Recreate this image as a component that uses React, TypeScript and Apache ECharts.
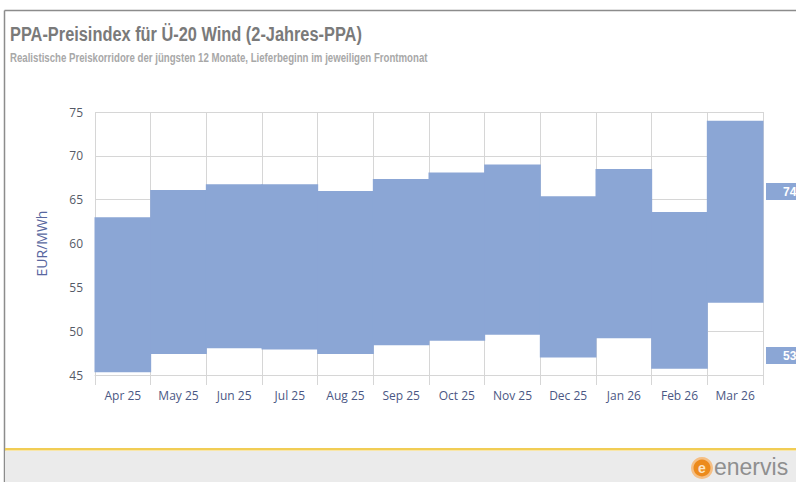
import React, { useEffect, useRef } from "react";
import * as echarts from "echarts";

const months = ["Apr 25", "May 25", "Jun 25", "Jul 25", "Aug 25", "Sep 25", "Oct 25", "Nov 25", "Dec 25", "Jan 26", "Feb 26", "Mar 26"];
const upper = [63.0, 66.1, 66.75, 66.75, 66.0, 67.35, 68.1, 69.0, 65.4, 68.5, 63.6, 74.0];
const lower = [45.3, 47.4, 48.05, 47.9, 47.4, 48.4, 48.9, 49.6, 47.0, 49.2, 45.7, 53.25];
const yTicks = { min: 45, max: 75, interval: 5 };
const titleText = "PPA-Preisindex für Ü-20 Wind (2-Jahres-PPA)";
const subtitleText = "Realistische Preiskorridore der jüngsten 12 Monate, Lieferbeginn im jeweiligen Frontmonat";
const yName = "EUR/MWh";

const BLUE = "#8ba6d5";

function fitScale(text: string, font: string, target: number): number {
  const ctx = document.createElement("canvas").getContext("2d");
  if (!ctx) return 1;
  ctx.font = font;
  const w = ctx.measureText(text).width;
  return w > 0 ? target / w : 1;
}

export default function App() {
  const ref = useRef<HTMLDivElement>(null);
  useEffect(() => {
    if (!ref.current) return;
    const chart = echarts.init(ref.current, null, { renderer: "svg" });
    const titleFont = "bold 20px 'Liberation Sans', Arial, sans-serif";
    const subFont = "bold 12px 'Liberation Sans', Arial, sans-serif";
    const tScale = fitScale(titleText, titleFont, 352);
    const sScale = fitScale(subtitleText, subFont, 418);
    const corridor = months.map((_, i) => [i, lower[i], upper[i]]);
    const lastTop = Math.round(upper[upper.length - 1]);
    const lastBot = Math.round(lower[lower.length - 1]);

    chart.setOption({
      animation: false,
      backgroundColor: "#ffffff",
      grid: { left: 95, right: 33, top: 112, bottom: 107, containLabel: false },
      xAxis: {
        type: "category",
        data: months,
        boundaryGap: true,
        axisLine: { show: true, lineStyle: { color: "#d6d6d6", width: 1 } },
        axisTick: { show: true, interval: 0, length: 10, lineStyle: { color: "#d6d6d6" } },
        splitLine: { show: true, interval: 0, lineStyle: { color: "#d6d6d6", width: 1 } },
        axisLabel: {
          interval: 0,
          color: "#4b5784",
          fontFamily: "'Open Sans', 'DejaVu Sans', sans-serif",
          fontSize: 12,
          margin: 14,
        },
      },
      yAxis: {
        type: "value",
        min: yTicks.min,
        max: yTicks.max,
        interval: yTicks.interval,
        name: yName,
        nameLocation: "middle",
        nameGap: 47,
        nameTextStyle: {
          color: "#5867a0",
          fontFamily: "'Open Sans', 'DejaVu Sans', sans-serif",
          fontSize: 14,
        },
        axisLine: { show: false },
        axisTick: { show: false },
        splitLine: { show: true, lineStyle: { color: "#d6d6d6", width: 1 } },
        axisLabel: {
          color: "#555a66",
          fontFamily: "'Open Sans', 'DejaVu Sans', sans-serif",
          fontSize: 12,
          margin: 12,
        },
      },
      series: [
        {
          type: "custom",
          z: 5,
          data: corridor,
          encode: { x: 0, y: [1, 2] },
          renderItem: (params: any, api: any) => {
            const idx = api.value(0);
            const top = api.coord([idx, api.value(2)]);
            const bot = api.coord([idx, api.value(1)]);
            const w = api.size([1, 0])[0];
            return {
              type: "rect",
              shape: { x: top[0] - w / 2 - 0.5, y: top[1], width: w + 1, height: bot[1] - top[1] },
              style: { fill: BLUE },
            };
          },
        },
      ],
      graphic: [
        // frame
        { type: "line", shape: { x1: 4.5, y1: 10.5, x2: 796, y2: 10.5 }, style: { stroke: "#8c8c8c", lineWidth: 1.5 } },
        { type: "line", shape: { x1: 4.5, y1: 10.5, x2: 4.5, y2: 482 }, style: { stroke: "#8c8c8c", lineWidth: 1.5 } },
        // title
        {
          type: "text",
          x: 10,
          y: 44,
          scaleX: tScale,
          style: { text: titleText, font: titleFont, fill: "#7a7a7a", textVerticalAlign: "bottom" },
        },
        {
          type: "text",
          x: 10,
          y: 64,
          scaleX: sScale,
          style: { text: subtitleText, font: subFont, fill: "#a8a8a8", textVerticalAlign: "bottom" },
        },
        // right value labels
        { type: "rect", shape: { x: 766, y: 183, width: 40, height: 17 }, style: { fill: BLUE } },
        {
          type: "text",
          x: 783,
          y: 192,
          style: { text: String(lastTop), font: "bold 12px 'Liberation Sans', Arial, sans-serif", fill: "#ffffff", textVerticalAlign: "middle" },
        },
        { type: "rect", shape: { x: 766, y: 347, width: 40, height: 17 }, style: { fill: BLUE } },
        {
          type: "text",
          x: 783,
          y: 356,
          style: { text: String(lastBot), font: "bold 12px 'Liberation Sans', Arial, sans-serif", fill: "#ffffff", textVerticalAlign: "middle" },
        },
        // footer
        { type: "rect", shape: { x: 5, y: 451, width: 791, height: 31 }, style: { fill: "#ebebeb" } },
        { type: "rect", shape: { x: 5, y: 448, width: 791, height: 2.5 }, style: { fill: "#f1cd55" } },
        // logo
        { type: "circle", shape: { cx: 702, cy: 468, r: 11 }, style: { fill: "#f5bf85" } },
        { type: "circle", shape: { cx: 702, cy: 468, r: 8.5 }, style: { fill: "#ec8a1c" } },
        {
          type: "text",
          x: 702,
          y: 468,
          style: { text: "e", font: "bold 14px 'Liberation Sans', Arial, sans-serif", fill: "#fbe3c4", textAlign: "center", textVerticalAlign: "middle" },
        },
        {
          type: "text",
          x: 714,
          y: 467,
          style: { text: "enervis", font: "23px 'Liberation Sans', Arial, sans-serif", fill: "#8f8f8f", textVerticalAlign: "middle" },
        },
      ],
    });
    return () => chart.dispose();
  }, []);
  return <div ref={ref} style={{ position: "fixed", left: 0, top: 0, width: 796, height: 482 }} />;
}
